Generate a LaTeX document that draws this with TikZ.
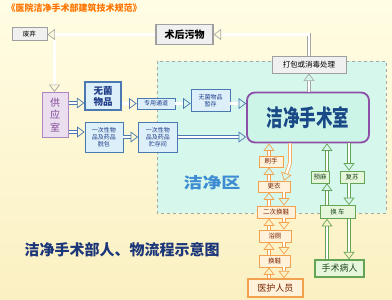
\documentclass[tikz,border=0pt]{standalone}
\usepackage{fontspec}
\setmainfont{Noto Sans CJK SC}
\usetikzlibrary{arrows.meta}

\definecolor{cremaalto}{HTML}{FFFDE4}
\definecolor{cremabajo}{HTML}{FBF0C2}
\definecolor{limpio}{HTML}{D5F7EC}
\definecolor{quirofano}{HTML}{CCF5E8}
\definecolor{morado}{HTML}{8E4FA8}
\definecolor{azulborde}{HTML}{4A78B0}
\definecolor{azulrelleno}{HTML}{DDF0FA}
\definecolor{azultexto}{HTML}{1F3C88}
\definecolor{naranjaborde}{HTML}{F2A24E}
\definecolor{naranjarelleno}{HTML}{FFF1DA}
\definecolor{naranjatexto}{HTML}{7A2400}
\definecolor{verdeborde}{HTML}{64A455}
\definecolor{verderelleno}{HTML}{E6F6DA}
\definecolor{verdetexto}{HTML}{1E4A1E}

\tikzset{
  nbox/.style={draw, inner sep=1pt, align=center, font=\fontsize{6.5}{7.5}\selectfont},
  graybox/.style={nbox, draw=gray!75, fill=gray!12, line width=0.9pt},
  bluebox/.style={nbox, draw=azulborde, fill=azulrelleno, text=azultexto, line width=0.8pt},
  orangebox/.style={nbox, draw=naranjaborde, fill=naranjarelleno, text=naranjatexto, line width=0.8pt},
  greenbox/.style={nbox, draw=verdeborde, fill=verderelleno, text=verdetexto, line width=0.8pt},
  fatarrow/.style={double=white, double distance=2.4pt, line width=0.7pt,
    -{Triangle[open, length=7.5pt, width=11pt]}},
}

\begin{document}
\begin{tikzpicture}[x=1pt, y=-1pt]
    % Fondo
    \useasboundingbox (0,0) rectangle (392,300);
    \shade[top color=cremaalto, bottom color=cremabajo] (0,0) rectangle (392,300);

    % Zona limpia
    \fill[limpio] (157,61) rectangle (386,213);
    \draw[gray!70, dashed, line width=0.6pt] (157,61) rectangle (386,213);
    \node[text=cyan!60!blue!80, font=\fontsize{19}{19}\bfseries, yscale=0.8] (zona) at (212,183) {洁净区};

    % Titulos
    \node[anchor=west, text=orange!90!red, font=\fontsize{9}{10}\bfseries] (titulo) at (3,8) {《医院洁净手术部建筑技术规范》};
    \node[anchor=west, text=azultexto!90!black, font=\fontsize{15}{16}\bfseries] (pie) at (21,250) {洁净手术部人、物流程示意图};

    % Cajas grises
    \node[graybox, minimum width=35, minimum height=13] (waste) at (29.5,34) {废弃};
    \node[graybox, minimum width=57, minimum height=20, font=\fontsize{10}{10}\bfseries, line width=1.2pt] (postop) at (184.5,34.5) {术后污物};
    \node[graybox, minimum width=74, minimum height=17, font=\fontsize{7.5}{8}\selectfont] (pack) at (309,64.5) {打包或消毒处理};

    % Materiales
    \node[nbox, draw=morado!70, fill=morado!18, text=morado!90!black, line width=1pt,
          minimum width=26, minimum height=45, font=\fontsize{10}{12.5}\selectfont] (supply) at (55,115) {供\\应\\室};
    \node[bluebox, minimum width=36, minimum height=28, line width=1.4pt, font=\fontsize{9.5}{11}\bfseries] (sterile) at (103,96) {无菌\\物品};
    \node[bluebox, minimum width=38, minimum height=11, font=\fontsize{6}{7}\selectfont] (channel) at (156,103.5) {专用通道};
    \node[bluebox, minimum width=39, minimum height=22, font=\fontsize{6}{7}\selectfont] (store) at (210.5,100.5) {无菌物品\\暂存};
    \node[bluebox, minimum width=38, minimum height=30, font=\fontsize{6}{7.2}\selectfont] (unpack) at (104,137) {一次性物\\品及药品\\脱包};
    \node[bluebox, minimum width=39, minimum height=30, font=\fontsize{6}{7.2}\selectfont] (depot) at (158,137) {一次性物\\品及药品\\贮存间};

    % Quirofano
    \node[draw=morado, fill=quirofano, line width=1.8pt, rounded corners=8pt,
          minimum width=122, minimum height=50] (or) at (308,117.5) {};
    \node[text=azultexto!80!teal, font=\fontsize{23}{23}\bfseries, xscale=0.72] (ortext) at (or) {洁净手术室};

    % Personal
    \node[orangebox, minimum width=24, minimum height=11] (scrub) at (271,161.5) {刷手};
    \node[orangebox, minimum width=32, minimum height=11] (gown) at (274,186.5) {更衣};
    \node[orangebox, minimum width=38, minimum height=12] (shoe2) at (276,212) {二次换鞋};
    \node[orangebox, minimum width=32, minimum height=12] (bath) at (275,236) {浴厕};
    \node[orangebox, minimum width=31, minimum height=12] (shoe) at (274.5,261) {换鞋};
    \node[orangebox, minimum width=55, minimum height=18, line width=1.2pt, font=\fontsize{9}{10}\selectfont] (staff) at (275.5,288) {医护人员};

    % Pacientes
    \node[greenbox, minimum width=18, minimum height=12] (anes) at (320,177) {预麻};
    \node[greenbox, minimum width=24, minimum height=12] (recov) at (352,177) {复苏};
    \node[greenbox, minimum width=35, minimum height=13] (cart) at (337.5,212) {换\,车};
    \node[greenbox, minimum width=49, minimum height=17, line width=1.2pt, font=\fontsize{9}{10}\selectfont] (patient) at (339.5,268.5) {手术病人};

    % Flechas grises (residuos)
    \coordinate (wasteout) at (54.5,40);
    \draw[fatarrow, gray!70] (or.north -| pack) -- (pack.south);
    \draw[fatarrow, gray!70] (pack.north) |- (postop.east);
    \draw[fatarrow, gray!70] (postop.west) -- (postop.west -| waste.east);
    \draw[fatarrow, gray!70] (wasteout) -- (wasteout |- supply.north);

    % Flechas azules (materiales)
    \draw[fatarrow, azulborde] ([yshift=12pt]supply.east) -- ([yshift=12pt]supply.east -| sterile.west);
    \draw[fatarrow, azulborde] ([yshift=-17pt]supply.east) -- ([yshift=-17pt]supply.east -| unpack.west);
    \draw[fatarrow, azulborde] (sterile.east |- channel) -- (channel.west);
    \draw[fatarrow, azulborde] (channel.east) -- (channel.east -| store.west);
    \draw[fatarrow, azulborde] ([yshift=-3pt]store.east) -- ([yshift=-3pt]store.east -| or.west);
    \draw[fatarrow, azulborde] (unpack.east) -- (unpack.east -| depot.west);
    \draw[fatarrow, azulborde] (depot.east) -- (depot.east -| or.west);

    % Flechas naranjas (personal)
    \foreach \a/\b in {staff/shoe, shoe/bath, bath/shoe2, shoe2/gown, gown/scrub, scrub/or}
      \draw[fatarrow, naranjaborde] (\a.north -| 269,0) -- (\b.south -| 269,0);
    \foreach \a/\b in {gown/shoe2, shoe2/bath, bath/shoe, shoe/staff}
      \draw[fatarrow, naranjaborde] (\a.south -| 284,0) -- (\b.north -| 284,0);
    \draw[fatarrow, naranjaborde] (or.south -| 290,0) -- (290,163) -- (gown.north -| 284,0);

    % Flechas verdes (pacientes)
    \foreach \a/\b in {patient/cart, cart/anes, anes/or}
      \draw[fatarrow, verdeborde] (\a.north -| 327,0) -- (\b.south -| 327,0);
    \foreach \a/\b in {or/recov, recov/cart, cart/patient}
      \draw[fatarrow, verdeborde] (\a.south -| 349,0) -- (\b.north -| 349,0);
\end{tikzpicture}
\end{document}
